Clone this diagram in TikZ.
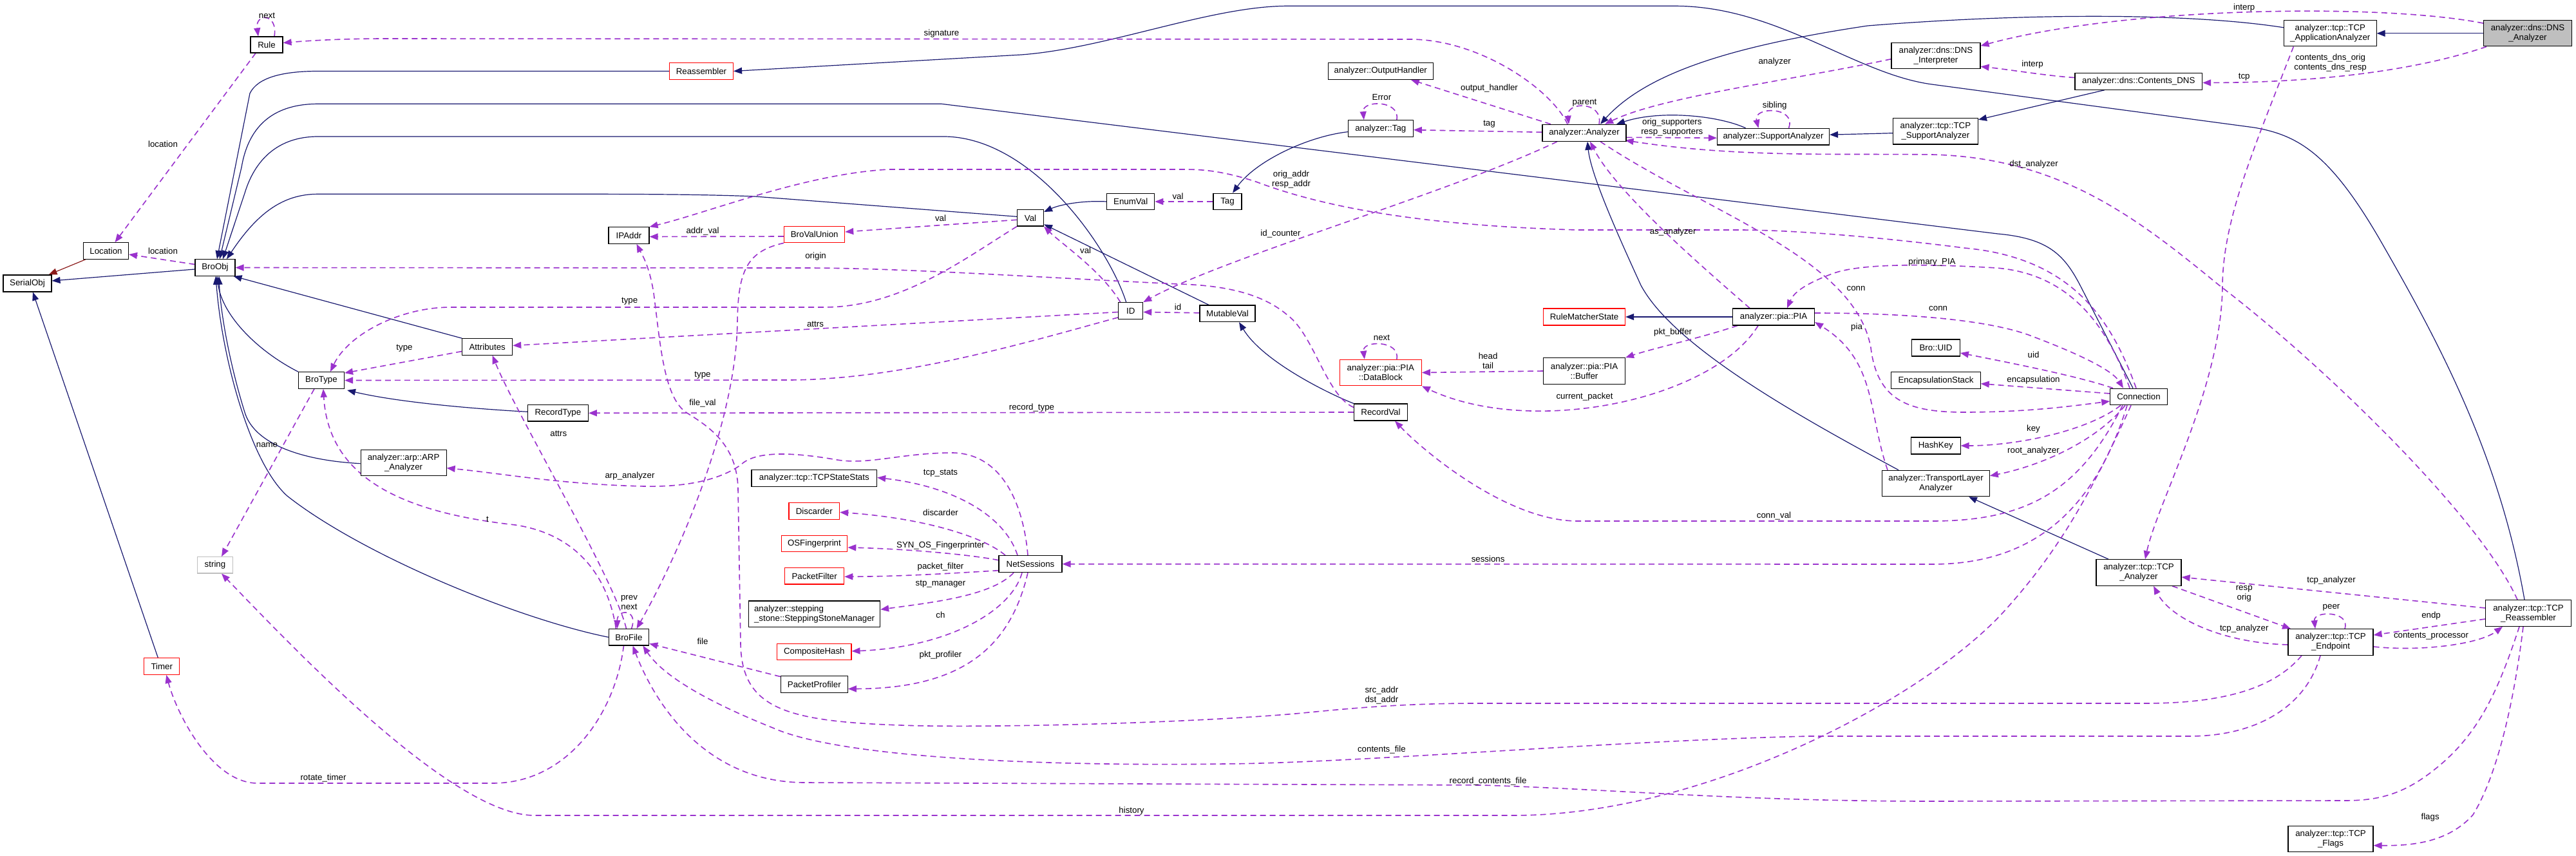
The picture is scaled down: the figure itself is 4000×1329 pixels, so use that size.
\documentclass[tikz,border=0pt]{standalone}
\usepackage{fontspec}
\setmainfont{Liberation Sans}
\usetikzlibrary{arrows.meta}
\definecolor{inhblue}{HTML}{191970}
\definecolor{usepurple}{HTML}{9A32CD}
\definecolor{inhred}{HTML}{8B1A1A}
\definecolor{grayfill}{HTML}{BFBFBF}
\newcommand\dgfont{\fontsize{13.3}{15}\selectfont}
\pgfdeclarelayer{bglayer}
\pgfdeclarelayer{edgelayer}
\pgfsetlayers{bglayer,edgelayer,main}
\begin{document}
\begin{tikzpicture}[x=1pt,y=-1pt,
  box/.style={rectangle, draw=black, line width=1.1pt, fill=white, inner sep=0pt, align=center, font=\dgfont},
  redbox/.style={box, draw=red},
  sz/.style 2 args={minimum width=#1pt, minimum height=#2pt},
  lab/.style={inner sep=0pt, font=\dgfont, align=center},
  inh/.style={draw=inhblue, line width=1.2pt, -{Triangle[length=13pt,width=10pt]}},
  inhr/.style={draw=inhred, line width=1.2pt, -{Triangle[length=13pt,width=10pt]}},
  use/.style={draw=usepurple, line width=1.6pt, dash pattern=on 9pt off 6pt, -{Triangle[length=13pt,width=10pt]}}]
\useasboundingbox (0,0) rectangle (4000,1329);
\begin{pgfonlayer}{bglayer}
\fill[white] (0,0) rectangle (4000,1329);
\end{pgfonlayer}

% ---------------- nodes
\node[box, sz={75}{26}] (serialobj) at (42.5,440) {SerialObj};
\node[box, sz={70}{25.5}] (location) at (164.5,389.5) {Location};
\node[box, sz={50}{25}] (rule) at (414,69.5) {Rule};
\node[box, sz={62}{25.5}] (broobj) at (334,415.5) {BroObj};
\node[box, sz={63}{25.5}] (ipaddr) at (976.5,365.5) {IPAddr};
\node[redbox, sz={99}{25.5}] (reassembler) at (1089,110.5) {Reassembler};
\node[redbox, sz={94}{25.5}] (bvu) at (1264.7,364) {BroValUnion};
\node[box, sz={41}{25.5}] (val) at (1600,338.3) {Val};
\node[box, sz={74}{25.7}] (enumval) at (1755.7,313) {EnumVal};
\node[box, sz={44}{25.7}] (tag) at (1906,313) {Tag};
\node[box, sz={163}{25.6}] (oh) at (2143.8,110.5) {analyzer::OutputHandler};
\node[box, sz={101}{26}] (atag) at (2143.8,199.7) {analyzer::Tag};
\node[box, sz={130}{26}] (ana) at (2460,206.3) {analyzer::Analyzer};
\node[box, sz={174}{25.7}] (supp) at (2753.5,212.2) {analyzer::SupportAnalyzer};
\node[box, sz={138}{40}] (dnsint) at (3006,86.7) {analyzer::dns::DNS\\\_Interpreter};
\node[box, sz={132}{40.7}] (tcpsupp) at (3005.4,203.7) {analyzer::tcp::TCP\\\_SupportAnalyzer};
\node[box, sz={143.5}{40.3}] (tcpapp) at (3618.3,51.8) {analyzer::tcp::TCP\\\_ApplicationAnalyzer};
\node[box, fill=grayfill, sz={137}{40.3}] (dnsan) at (3925,51.8) {analyzer::dns::DNS\\\_Analyzer};
\node[box, sz={197.6}{25.6}] (cdns) at (3320.8,126.5) {analyzer::dns::Contents\_DNS};
\node[box, sz={71}{25.6}] (brotype) at (499,590.5) {BroType};
\node[box, sz={78}{25.6}] (attributes) at (756.7,538.5) {Attributes};
\node[box, sz={94}{25.3}] (recordtype) at (866.4,641.3) {RecordType};
\node[box, sz={133}{40}] (arp) at (626.6,718.7) {analyzer::arp::ARP\\\_Analyzer};
\node[box, draw=grayfill, sz={55}{25.3}] (string) at (334,877.3) {string};
\node[box, sz={38}{25.6}] (id) at (1755.7,482.5) {ID};
\node[box, sz={86}{25.7}] (mutableval) at (1906,486.8) {MutableVal};
\node[box, sz={194.6}{25.6}] (tcpss) at (1264.3,742.5) {analyzer::tcp::TCPStateStats};
\node[redbox, sz={78.6}{26}] (discarder) at (1264.3,793.3) {Discarder};
\node[redbox, sz={102.7}{25.4}] (osf) at (1264.4,844) {OSFingerprint};
\node[box, sz={98}{26}] (netsessions) at (1600,875.7) {NetSessions};
\node[redbox, sz={92}{25.3}] (packetfilter) at (1264.7,894.3) {PacketFilter};
\node[box, align=left, sz={204}{40.7}] (ssm) at (1264.6,953.3) {analyzer::stepping\\\_stone::SteppingStoneManager};
\node[redbox, sz={115.4}{25.4}] (compositehash) at (1264.3,1012) {CompositeHash};
\node[box, sz={104}{25.6}] (packetprofiler) at (1264.3,1062.5) {PacketProfiler};
\node[box, sz={62.5}{25.3}] (brofile) at (976.5,989.3) {BroFile};
\node[redbox, sz={55}{25.6}] (timer) at (251.3,1034.5) {Timer};
\node[redbox, sz={127}{26}] (rms) at (2460,492) {RuleMatcherState};
\node[box, sz={127}{26}] (pia) at (2754,492) {analyzer::pia::PIA};
\node[redbox, sz={127}{40.4}] (datablock) at (2143.8,578.5) {analyzer::pia::PIA\\::DataBlock};
\node[box, sz={127}{40.6}] (buffer) at (2460,576) {analyzer::pia::PIA\\::Buffer};
\node[box, sz={83}{26}] (recordval) at (2144,640) {RecordVal};
\node[box, sz={166.5}{40.4}] (tla) at (3006,750.5) {analyzer::TransportLayer\\Analyzer};
\node[box, sz={74.7}{26}] (uid) at (3006,540) {Bro::UID};
\node[box, sz={138.4}{26}] (encap) at (3006,590.7) {EncapsulationStack};
\node[box, sz={76.5}{26}] (hashkey) at (3005.8,692) {HashKey};
\node[box, sz={88.6}{25.7}] (connection) at (3321,616) {Connection};
\node[box, sz={132}{40.6}] (tcpan) at (3321,889) {analyzer::tcp::TCP\\\_Analyzer};
\node[box, sz={132}{40.6}] (tcpend) at (3619,997) {analyzer::tcp::TCP\\\_Endpoint};
\node[box, sz={132.6}{40.6}] (tcpre) at (3926,952) {analyzer::tcp::TCP\\\_Reassembler};
\node[box, sz={132}{40}] (tcpflags) at (3619,1302.7) {analyzer::tcp::TCP\\\_Flags};

% ---------------- edge labels
\node[lab] (lb1) at (414.5,24) {next};
\node[lab] (lb2) at (253,224) {location};
\node[lab] (lb3) at (253,390) {location};
\node[lab] (lb4) at (1462,51.7) {signature};
\node[lab] (lb5) at (2755.7,96) {analyzer};
\node[lab] (lb6) at (2312.5,136.7) {output\_handler};
\node[lab] (lb7) at (2312.5,192.7) {tag};
\node[lab] (lb8) at (2145.4,151) {Error};
\node[lab] (lb9) at (2460.5,160) {parent};
\node[lab] (lb10) at (2596.3,198) {orig\_supporters\\resp\_supporters};
\node[lab] (lb11) at (2755.7,164) {sibling};
\node[lab] (lb12) at (3158,255) {dst\_analyzer};
\node[lab] (lb13) at (3484.7,11.7) {interp};
\node[lab] (lb14) at (3156,100) {interp};
\node[lab] (lb15) at (3618.6,98) {contents\_dns\_orig\\contents\_dns\_resp};
\node[lab] (lb16) at (3484.7,119.3) {tcp};
\node[lab] (lb17) at (1988.5,363.3) {id\_counter};
\node[lab] (lb18) at (2882,448) {conn};
\node[lab] (lb19) at (2597.6,360) {as\_analyzer};
\node[lab] (lb20) at (3000,406.7) {primary\_PIA};
\node[lab] (lb21) at (3009.6,479) {conn};
\node[lab] (lb22) at (2883,508) {pia};
\node[lab] (lb23) at (2597.6,515.7) {pkt\_buffer};
\node[lab] (lb24) at (2310.6,560) {head\\tail};
\node[lab] (lb25) at (2145.4,524) {next};
\node[lab] (lb26) at (2460.5,615.7) {current\_packet};
\node[lab] (lb27) at (3157.5,550.3) {uid};
\node[lab] (lb28) at (3157.5,590.3) {encapsulation};
\node[lab] (lb29) at (3157.5,666.3) {key};
\node[lab] (lb30) at (3157.5,699.7) {root\_analyzer};
\node[lab] (lb31) at (2754.5,800.7) {conn\_val};
\node[lab] (lb32) at (2310.6,868) {sessions};
\node[lab] (lb33) at (1757,1258.7) {history};
\node[lab] (lb34) at (2005,279) {orig\_addr\\resp\_addr};
\node[lab] (lb35) at (977.7,468) {type};
\node[lab] (lb36) at (628,540.7) {type};
\node[lab] (lb37) at (1091,583) {type};
\node[lab] (lb38) at (1266,503) {attrs};
\node[lab] (lb39) at (1602,633) {record\_type};
\node[lab] (lb40) at (757,806.3) {t};
\node[lab] (lb41) at (414.5,691.3) {name};
\node[lab] (lb42) at (867.3,673) {attrs};
\node[lab] (lb43) at (977,935) {prev\\next};
\node[lab] (lb44) at (502,1207.7) {rotate\_timer};
\node[lab] (lb45) at (1091,996) {file};
\node[lab] (lb46) at (1460.5,338.3) {val};
\node[lab] (lb47) at (1091,359.3) {addr\_val};
\node[lab] (lb48) at (1091,626.3) {file\_val};
\node[lab] (lb49) at (2145.4,1079) {src\_addr\\dst\_addr};
\node[lab] (lb50) at (2145.4,1164.3) {contents\_file};
\node[lab] (lb51) at (2310.6,1212.7) {record\_contents\_file};
\node[lab] (lb52) at (3773.6,1268.7) {flags};
\node[lab] (lb53) at (3620,901) {tcp\_analyzer};
\node[lab] (lb54) at (3775,956) {endp};
\node[lab] (lb55) at (3775,987.7) {contents\_processor};
\node[lab] (lb56) at (3620,943) {peer};
\node[lab] (lb57) at (3484.7,922) {resp\\orig};
\node[lab] (lb58) at (3484.7,976) {tcp\_analyzer};
\node[lab] (lb59) at (978,739) {arp\_analyzer};
\node[lab] (lb60) at (1460.5,734.7) {tcp\_stats};
\node[lab] (lb61) at (1460.5,795.3) {discarder};
\node[lab] (lb62) at (1460.5,847.3) {SYN\_OS\_Fingerprinter};
\node[lab] (lb63) at (1460.5,879.7) {packet\_filter};
\node[lab] (lb64) at (1460.5,906.7) {stp\_manager};
\node[lab] (lb65) at (1460.5,954.3) {ch};
\node[lab] (lb66) at (1460.5,1016.7) {pkt\_profiler};
\node[lab] (lb67) at (1829,476.3) {id};
\node[lab] (lb68) at (1685.6,389) {val};
\node[lab] (lb69) at (1266.6,398.3) {origin};
\node[lab] (lb70) at (1829,305) {val};

\begin{pgfonlayer}{edgelayer}
% ---------------- inheritance
\draw[inhr] ([xshift=4pt]location.south west) -- ([xshift=-5pt]serialobj.north east);
\draw[inh] ([yshift=-2.5pt]broobj.west) -- ([yshift=4pt]serialobj.east);
\draw[inh] ([xshift=-6pt]timer.north) -- ([xshift=8.5pt]serialobj.south);
\draw[inh] (reassembler.west) -- (494,110.5) .. controls (440,110.5) and (400,120) .. (388,145) -- ([xshift=3pt]broobj.north);
\draw[inh] ([xshift=-9pt]connection.north) -- (3230,443) .. controls (3205,395) and (3180,370) .. (3102,363) -- (1462,161.3) -- (494,161.3) .. controls (420,161.3) and (385,200) .. (375,260) -- ([xshift=7pt]broobj.north);
\draw[inh] ([xshift=-7pt]id.north) .. controls (1720,380) and (1600,212) .. (1465,212) -- (494,212) .. controls (430,212) and (395,250) .. (380,300) -- ([xshift=12pt]broobj.north);
\draw[inh] ([yshift=2pt]val.west) -- (1172,305) .. controls (1100,302) and (1000,301.3) .. (900,301.3) -- (494,301.3) .. controls (440,301.3) and (400,330) .. ([xshift=18pt]broobj.north);
\draw[inh] (attributes.north west) -- ([xshift=-3pt]broobj.south east);
\draw[inh] (brotype.north west) .. controls (400,545) and (345,490) .. ([xshift=3pt]broobj.south);
\draw[inh] ([yshift=-1pt]arp.west) .. controls (470,715) and (395,690) .. (380,640) .. controls (355,560) and (342,480) .. ([xshift=6pt]broobj.south);
\draw[inh] (brofile.west) .. controls (800,960) and (560,860) .. (446,770) .. controls (390,720) and (345,560) .. ([xshift=1pt]broobj.south);
\draw[inh] ([yshift=2pt]recordtype.west) .. controls (740,635) and (620,625) .. ([xshift=4pt,yshift=-2pt]brotype.south east);
\draw[inh] (enumval.west) .. controls (1680,311) and (1645,318) .. ([yshift=-4pt]val.north east);
\draw[inh] ([xshift=-29pt]mutableval.north) -- ([yshift=-10pt]val.east);
\draw[inh] (recordval.north west) .. controls (2060,610) and (1960,560) .. ([xshift=18pt]mutableval.south);
\draw[inh] ([yshift=-5pt]atag.west) .. controls (2030,212) and (1950,250) .. ([xshift=8pt]tag.north);
\draw[inh] ([yshift=9pt]tcpapp.west) .. controls (3400,20) and (3150,20) .. (2900,40) .. controls (2700,70) and (2560,110) .. ([xshift=25pt]ana.north);
\draw[inh] ([xshift=-43pt]supp.north) .. controls (2670,180) and (2580,170) .. ([xshift=50pt]ana.north);
\draw[inh] ([yshift=-3pt]tcpsupp.west) -- ([yshift=3pt]supp.east);
\draw[inh] ([xshift=-53pt]cdns.south) -- ([yshift=-3pt]tcpsupp.north east);
\draw[inh] (dnsan.west) -- (tcpapp.east);
\draw[inh] (pia.west) -- (rms.east);
\draw[inh] ([xshift=-58pt]tla.north) .. controls (2800,650) and (2600,540) .. (2548,443) .. controls (2510,360) and (2470,270) .. ([xshift=5pt]ana.south);
\draw[inh] ([xshift=-47pt]tcpan.north) -- ([xshift=51pt]tla.south);
\draw[inh] ([xshift=-6pt]tcpre.north) .. controls (3880,700) and (3780,520) .. (3700,380) .. controls (3620,240) and (3570,210) .. (3500,198) -- (3000,131) .. controls (2880,115) and (2760,9.3) .. (2600,9.3) -- (2000,9.3) .. controls (1880,9.3) and (1720,75) .. (1586,85) -- (reassembler.east);

% ---------------- usage
\draw[use] ([xshift=12pt]rule.north) .. controls (432,20) and (396,20) .. ([xshift=-13pt]rule.north);
\draw[use] ([xshift=-17pt]rule.south) -- ([xshift=14pt]location.north);
\draw[use] ([yshift=5pt]broobj.west) -- ([yshift=-5.5pt]location.east);
\draw[use] ([xshift=-26pt]ana.north) .. controls (2410,140) and (2300,62) .. (2191,61) -- (600,60) .. controls (520,60) and (470,64) .. ([yshift=3pt]rule.east);
\draw[use] ([yshift=-5pt]dnsint.west) .. controls (2780,125) and (2580,150) .. ([xshift=32pt]ana.north);
\draw[use] ([xshift=-52pt]ana.north) -- ([xshift=47pt]oh.south);
\draw[use] ([yshift=1pt]ana.west) -- ([yshift=-2pt]atag.east);
\draw[use] ([xshift=25pt]atag.north) .. controls (2175,155) and (2115,155) .. ([xshift=-26pt]atag.north);
\draw[use] ([xshift=23pt]ana.north) .. controls (2490,157) and (2432,157) .. ([xshift=-24pt]ana.north);
\draw[use] ([yshift=-7pt]ana.east) -- ([yshift=-2pt]supp.west);
\draw[use] ([xshift=24pt]supp.north) .. controls (2790,165) and (2722,165) .. ([xshift=-23pt]supp.north);
\draw[use] ([xshift=-17pt]tcpre.north) .. controls (3850,800) and (3600,560) .. (3446,443) .. controls (3320,340) and (3200,245) .. (3000,240) .. controls (2850,238) and (2700,245) .. ([xshift=-2pt,yshift=2pt]ana.south east);
\draw[use] ([yshift=-5pt]dnsan.north west) .. controls (3700,5) and (3300,10) .. ([yshift=-5pt]dnsint.north east);
\draw[use] ([yshift=6pt]cdns.west) .. controls (3180,118) and (3120,108) .. ([yshift=-16.6pt]dnsint.east);
\draw[use] ([xshift=-64pt]dnsan.south) .. controls (3750,110) and (3600,128) .. ([yshift=-2pt]cdns.east);
\draw[use] ([xshift=-57pt]tcpapp.south) .. controls (3500,230) and (3452,340) .. (3451,443) .. controls (3450,600) and (3350,780) .. ([xshift=10pt]tcpan.north);
\draw[use] ([xshift=-42pt]ana.south) .. controls (2250,300) and (1900,400) .. (id.north east);
\draw[use] ([xshift=25pt]ana.south) .. controls (2650,330) and (2880,400) .. (2905,540) .. controls (2915,620) and (2960,640) .. (3050,640) .. controls (3150,640) and (3220,630) .. ([yshift=-7pt]connection.west);
\draw[use] ([xshift=-37pt]pia.north) .. controls (2650,420) and (2510,300) .. ([xshift=9pt]ana.south);
\draw[use] ([xshift=-14pt]connection.north) .. controls (3270,500) and (3210,425) .. (3100,416) .. controls (3000,410) and (2890,408) .. (2845,425) .. controls (2800,442) and (2785,455) .. ([xshift=21pt]pia.north);
\draw[use] ([yshift=6pt]pia.east) .. controls (2950,486) and (3080,495) .. (3150,520) .. controls (3230,550) and (3280,575) .. ([xshift=-24pt]connection.north);
\draw[use] ([xshift=-75pt]tla.north) .. controls (2900,640) and (2915,560) .. ([yshift=-8pt]pia.east);
\draw[use] ([xshift=-56pt]pia.south) .. controls (2640,525) and (2570,540) .. (buffer.north east);
\draw[use] (buffer.west) -- (datablock.east);
\draw[use] ([xshift=25pt]datablock.north) .. controls (2175,528) and (2115,528) .. ([xshift=-25pt]datablock.north);
\draw[use] ([xshift=-24pt]pia.south) .. controls (2660,620) and (2380,680) .. ([yshift=-21pt]datablock.east);
\draw[use] ([xshift=-40pt]connection.north) .. controls (3230,585) and (3130,565) .. ([yshift=-8pt]uid.east);
\draw[use] ([yshift=5pt]connection.west) -- ([yshift=-5pt]encap.east);
\draw[use] ([xshift=-28pt]connection.south) .. controls (3240,670) and (3130,692) .. (hashkey.east);
\draw[use] ([xshift=-21pt]connection.south) .. controls (3250,690) and (3160,725) .. ([yshift=-9pt]tla.north east);
\draw[use] ([xshift=-25pt]connection.south) .. controls (3230,760) and (3150,809) .. (3000,809) -- (2450,809) .. controls (2340,809) and (2210,700) .. ([xshift=22pt]recordval.south);
\draw[use] ([xshift=-18pt]connection.south) .. controls (3250,800) and (3150,876) .. (3000,876) -- (netsessions.east);
\draw[use] ([xshift=-12pt]connection.south) .. controls (3250,760) and (3200,850) .. (3120,940) .. controls (3000,1080) and (2650,1266) .. (2350,1266) -- (830,1266) .. controls (700,1266) and (450,1000) .. ([xshift=10pt]string.south);
\draw[use] ([xshift=-4pt]connection.north) .. controls (3280,500) and (3220,400) .. (3050,385) .. controls (2950,372) and (2800,357) .. (2700,357) -- (2450,357) .. controls (2200,350) and (2050,320) .. (1950,282) .. controls (1900,266) and (1870,263) .. (1840,263) -- (1380,263) .. controls (1250,270) and (1100,330) .. (ipaddr.north east);
\draw[use] (val.south west) .. controls (1500,400) and (1400,477) .. (1280,477) -- (700,477) .. controls (620,477) and (540,520) .. ([xshift=14pt]brotype.north);
\draw[use] ([yshift=-7pt]attributes.west) -- ([yshift=-2pt]brotype.north east);
\draw[use] ([yshift=3pt]id.south west) .. controls (1600,530) and (1400,590) .. (1223,590) -- (brotype.east);
\draw[use] ([yshift=-2pt]id.west) -- ([yshift=2pt]attributes.east);
\draw[use] (recordval.west) -- (recordtype.east);
\draw[use] ([xshift=-20pt]brofile.north) .. controls (945,900) and (900,830) .. (800,815) .. controls (620,795) and (510,740) .. ([xshift=3pt]brotype.south);
\draw[use] ([xshift=-11pt]brotype.south) -- ([xshift=10pt]string.north);
\draw[use] ([xshift=-4pt]brofile.north) .. controls (955,900) and (800,640) .. ([xshift=8pt]attributes.south);
\draw[use] ([xshift=4pt]brofile.north) .. controls (992,945) and (958,945) .. ([xshift=-18pt]brofile.north);
\draw[use] ([xshift=-8pt]brofile.south) .. controls (955,1110) and (880,1216) .. (765,1216) -- (400,1216) .. controls (330,1216) and (275,1110) .. ([xshift=7pt]timer.south);
\draw[use] ([yshift=12pt]packetprofiler.west) -- ([yshift=-10pt]brofile.east);
\draw[use] ([yshift=-3pt]val.west) -- ([yshift=4pt]bvu.east);
\draw[use] ([yshift=-3pt]bvu.west) -- ([yshift=-2pt]ipaddr.east);
\draw[use] (bvu.south west) .. controls (1160,390) and (1146,420) .. (1145,500) .. controls (1143,650) and (1060,850) .. ([xshift=12pt]brofile.north);
\draw[use] ([xshift=-45pt]tcpend.south) .. controls (3530,1070) and (3450,1092) .. (3330,1092) -- (2290,1092) .. controls (2150,1092) and (2050,1105) .. (2000,1109) .. controls (1800,1125) and (1500,1130) .. (1400,1126) .. controls (1220,1120) and (1152,1100) .. (1150,1000) -- (1146,760) .. controls (1145,690) and (1100,662) .. (1065,640) .. controls (1030,615) and (1025,530) .. (1015,455) .. controls (1008,410) and (995,392) .. ([xshift=12pt]ipaddr.south);
\draw[use] ([xshift=-16pt]tcpend.south) .. controls (3580,1100) and (3500,1143) .. (3400,1143) -- (2810,1143) .. controls (2500,1150) and (2100,1185) .. (1900,1186) .. controls (1600,1190) and (1300,1175) .. (1200,1130) .. controls (1100,1090) and (1030,1050) .. ([xshift=-10pt]brofile.south east);
\draw[use] ([xshift=-14pt]tcpre.south) .. controls (3880,1070) and (3850,1140) .. (3780,1195) .. controls (3730,1235) and (3690,1243) .. (3640,1243) -- (3000,1244) .. controls (2700,1244) and (2500,1225) .. (2300,1219) -- (1250,1215) .. controls (1100,1215) and (1020,1100) .. ([xshift=6pt]brofile.south);
\draw[use] ([xshift=-8pt]tcpre.south) .. controls (3905,1080) and (3880,1200) .. (3840,1265) .. controls (3800,1310) and (3740,1313) .. ([yshift=-10pt]tcpflags.east);
\draw[use] ([yshift=8pt]tcpre.west) -- ([yshift=-7pt]tcpan.east);
\draw[use] ([yshift=-9pt]tcpre.west) -- ([yshift=11pt]tcpend.east);
\draw[use] ([yshift=-7pt]tcpend.east) .. controls (3760,1012) and (3850,1000) .. ([xshift=-40pt]tcpre.south);
\draw[use] ([xshift=22pt]tcpend.north) .. controls (3650,948) and (3592,948) .. ([xshift=-24pt]tcpend.north);
\draw[use] ([xshift=52pt]tcpan.south) -- ([xshift=-62pt]tcpend.north);
\draw[use] ([yshift=-4pt]tcpend.west) .. controls (3450,998) and (3370,960) .. ([xshift=23pt]tcpan.south);
\draw[use] ([xshift=-4pt]netsessions.north) .. controls (1590,790) and (1560,705) .. (1480,703) .. controls (1400,703) and (1350,722) .. (1300,714) .. controls (1220,700) and (1170,702) .. (1150,722) .. controls (1110,750) and (1050,756) .. (1000,755) .. controls (870,752) and (780,735) .. ([yshift=-8pt]arp.east);
\draw[use] ([xshift=-20pt]netsessions.north) .. controls (1560,800) and (1480,755) .. ([yshift=1pt]tcpss.east);
\draw[use] ([xshift=-39pt]netsessions.north) .. controls (1530,835) and (1440,805) .. ([yshift=-2pt]discarder.east);
\draw[use] ([yshift=6pt]netsessions.west) .. controls (1500,860) and (1400,852) .. ([yshift=-6pt]osf.east);
\draw[use] ([yshift=-10pt]netsessions.west) .. controls (1480,890) and (1400,895) .. ([yshift=-1pt]packetfilter.east);
\draw[use] ([xshift=-26pt]netsessions.south) .. controls (1540,925) and (1450,935) .. ([yshift=7pt]ssm.east);
\draw[use] ([xshift=-13pt]netsessions.south) .. controls (1570,950) and (1470,1005) .. ([yshift=1pt]compositehash.east);
\draw[use] ([xshift=-4pt]netsessions.south) .. controls (1570,1000) and (1500,1069) .. ([yshift=-7pt]packetprofiler.east);
\draw[use] ([yshift=1pt]mutableval.west) -- ([yshift=-2pt]id.east);
\draw[use] ([xshift=-16pt]id.north) .. controls (1710,420) and (1650,380) .. ([xshift=21pt]val.south);
\draw[use] ([yshift=-6pt]recordval.north west) .. controls (2060,615) and (2040,520) .. (2000,490) .. controls (1960,455) and (1900,443) .. (1830,441) .. controls (1600,430) and (1400,416) .. (1250,416) -- (broobj.east);
\draw[use] (tag.west) -- (enumval.east);
\end{pgfonlayer}
\end{tikzpicture}
\end{document}
